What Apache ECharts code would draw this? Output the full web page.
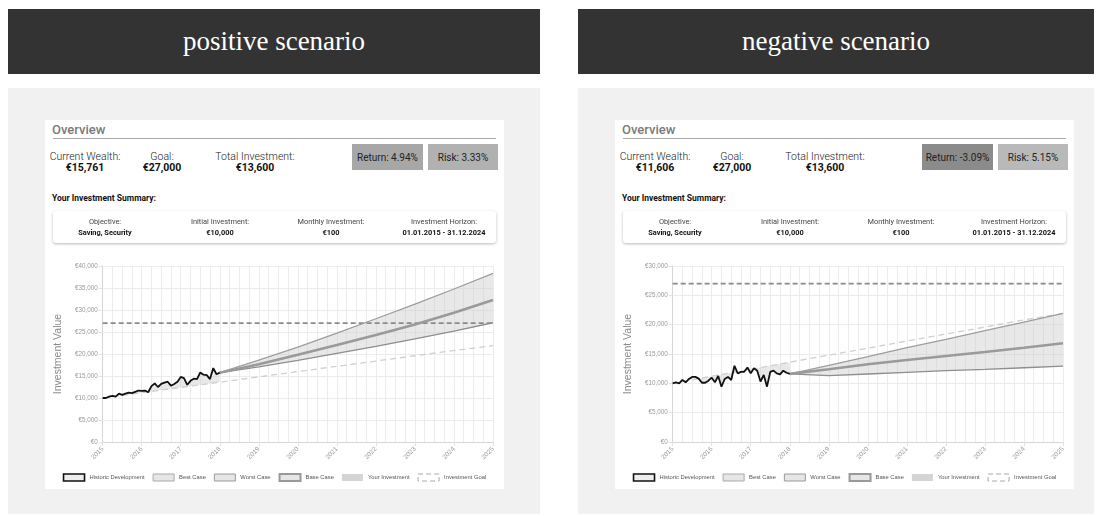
<!DOCTYPE html>
<html>
<head>
<meta charset="utf-8">
<script src="https://cdn.jsdelivr.net/npm/echarts/dist/echarts.min.js"></script>
<style>
  body { margin: 0; width: 1102px; height: 516px; background: #fff; position: relative; overflow: hidden;
         font-family: Roboto, "Liberation Sans", sans-serif; color: #222; }
  .head { position: absolute; top: 9px; height: 65px; background: #333; color: #fff;
          font-family: "Liberation Serif", "DejaVu Serif", serif; font-size: 27px;
          display: flex; align-items: center; justify-content: center; }
  .panel { position: absolute; top: 88px; height: 426px; background: #f1f1f1; }
  .card { position: absolute; top: 120px; width: 459px; height: 369px; background: #fff; }
  .c { position: absolute; width: 160px; margin-left: -80px; white-space: nowrap; text-align: center; }
  .l { position: absolute; white-space: nowrap; }
  .lab { font-size: 10.5px; font-weight: 300; color: #222; line-height: 12px; }
  .val { font-size: 10.5px; font-weight: bold; color: #111; line-height: 12px; }
  .box { position: absolute; top: 24px; height: 26px; font-size: 10px; color: #222;
         display: flex; align-items: center; justify-content: center; }
  .sum { position: absolute; left: 8px; top: 91px; width: 443px; height: 32px; background: #fff;
         border-radius: 3px; box-shadow: 0 1px 3px rgba(0,0,0,0.28); }
  .sl { font-size: 7.4px; color: #444; line-height: 9px; will-change: transform; }
  .sv { font-size: 7.4px; font-weight: bold; color: #111; line-height: 9px; will-change: transform; }
  .chart { position: absolute; left: 0; top: 128px; width: 459px; height: 241px; }
</style>
</head>
<body>
<div class="head" style="left:8px;width:532px">positive scenario</div>
<div class="head" style="left:578px;width:516px">negative scenario</div>
<div class="panel" style="left:8px;width:532px"></div>
<div class="panel" style="left:578px;width:516px"></div>
<div class="card" id="cardPos" style="left:45px"></div>
<div class="card" id="cardNeg" style="left:615px"></div>

<script>
// x positions of the monthly history and of the yearly projections
var histStart = 2015
var years = [2015, 2016, 2017, 2018, 2019, 2020, 2021, 2022, 2023, 2024, 2025]
var projYears = [2018, 2019, 2020, 2021, 2022, 2023, 2024, 2025]

// total paid in (initial + monthly), read at each year
var invested = [10000, 11200, 12400, 13600, 14800, 16000, 17200, 18400, 19600, 20800, 21900]
var goal = 27000

// positive scenario
var histPos = [10000, 10000, 10300, 10500, 10300, 11000, 10700, 11000, 11200, 11100, 11400, 11700,
               11600, 11700, 11300, 12700, 13300, 12500, 13200, 13500, 13700, 12800, 13200, 13700,
               14800, 14500, 13000, 13900, 14400, 14300, 15800, 15300, 15200, 14300, 16800, 15400, 15761]
var bestPos  = [15761, 18600, 21560, 24750, 28010, 31350, 34770, 38340]
var basePos  = [15761, 17690, 19820, 22020, 24300, 26730, 29370, 32260]
var worstPos = [15761, 17080, 18530, 20120, 21710, 23450, 25200, 27100]

// negative scenario
var histNeg = [10000, 10170, 10000, 10570, 10170, 10740, 11100, 11100, 10800, 10100, 10100, 10450,
               10970, 10170, 11250, 9430, 10740, 11100, 10570, 13000, 11700, 11960, 11960, 12700,
               11700, 12560, 12160, 10300, 11420, 9430, 11960, 12160, 11700, 11530, 12160, 11800, 11606]
var bestNeg  = [11606, 13070, 14540, 16070, 17500, 18970, 20450, 21930]
var baseNeg  = [11606, 12390, 13240, 13980, 14660, 15340, 16070, 16820]
var worstNeg = [11606, 11300, 11590, 11880, 12160, 12390, 12660, 12950]

var cardPos = {
  wealth: '€15,761', goal: '€27,000', total: '€13,600',
  ret: 'Return: 4.94%', risk: 'Risk: 3.33%', retBg: '#a7a7a7', riskBg: '#b1b1b1'
}
var cardNeg = {
  wealth: '€11,606', goal: '€27,000', total: '€13,600',
  ret: 'Return: -3.09%', risk: 'Risk: 5.15%', retBg: '#8b8b8b', riskBg: '#b9b9b9'
}

function buildCard (el, c) {
  el.innerHTML =
    '<div class="l" style="left:7px;top:2px;font-size:13px;font-weight:500;color:#7a7a7a">Overview</div>' +
    '<div class="l" style="left:8px;top:18px;width:443px;height:1px;background:#aaa"></div>' +
    '<div class="c lab" style="left:40px;top:31px">Current Wealth:</div>' +
    '<div class="c val" style="left:40px;top:42px">' + c.wealth + '</div>' +
    '<div class="c lab" style="left:117px;top:31px">Goal:</div>' +
    '<div class="c val" style="left:117px;top:42px">' + c.goal + '</div>' +
    '<div class="c lab" style="left:210px;top:31px">Total Investment:</div>' +
    '<div class="c val" style="left:210px;top:42px">' + c.total + '</div>' +
    '<div class="box" style="left:307px;width:71px;background:' + c.retBg + '">' + c.ret + '</div>' +
    '<div class="box" style="left:383px;width:70px;background:' + c.riskBg + '">' + c.risk + '</div>' +
    '<div class="l" style="left:7px;top:73px;font-size:8.5px;font-weight:bold;color:#111">Your Investment Summary:</div>' +
    '<div class="sum">' +
      '<div class="c sl" style="left:52px;top:6px">Objective:</div>' +
      '<div class="c sv" style="left:52px;top:17px">Saving, Security</div>' +
      '<div class="c sl" style="left:167px;top:6px">Initial Investment:</div>' +
      '<div class="c sv" style="left:167px;top:17px">€10,000</div>' +
      '<div class="c sl" style="left:278px;top:6px">Monthly Investment:</div>' +
      '<div class="c sv" style="left:278px;top:17px">€100</div>' +
      '<div class="c sl" style="left:391px;top:6px">Investment Horizon:</div>' +
      '<div class="c sv" style="left:391px;top:17px">01.01.2015 - 31.12.2024</div>' +
    '</div>' +
    '<div class="chart"></div>'
  return el.querySelector('.chart')
}

function pairs (xs, ys) {
  return ys.map(function (v, i) { return [xs[i], v] })
}

// filled polygon between two point lists, positioned through the axes
function bandSeries (upper, lower, fill) {
  return {
    type: 'custom', silent: true, z: 1,
    data: [[2015, 0]],
    renderItem: function (params, api) {
      var pts = upper.map(function (p) { return api.coord(p) })
        .concat(lower.slice().reverse().map(function (p) { return api.coord(p) }))
      return { type: 'polygon', shape: { points: pts }, style: { fill: fill } }
    }
  }
}

function makeOption (hist, best, base, worst, yMax) {
  var histX = hist.map(function (v, i) { return histStart + i / 12 })
  var histPts = pairs(histX, hist)
  var investPts = pairs(years, invested)
  var bestPts = pairs(projYears, best)
  var basePts = pairs(projYears, base)
  var worstPts = pairs(projYears, worst)
  var fmt = function (v) { return '€' + v.toLocaleString('en-US') }

  return {
    animation: false,
    grid: { left: 51, right: 11, top: 18, bottom: 47 },
    xAxis: {
      type: 'value', min: 2015, max: 2025, interval: 1,
      axisLine: { lineStyle: { color: '#d6d6d6' } },
      axisTick: { show: true, length: 4, lineStyle: { color: '#e2e2e2' } },
      axisLabel: { rotate: 45, fontSize: 6.5, color: '#999', margin: 6,
                   fontFamily: 'Liberation Sans', formatter: function (v) { return String(v) } },
      splitLine: { lineStyle: { color: '#ececec' } },
      minorTick: { show: false, splitNumber: 4 },
      minorSplitLine: { show: true, lineStyle: { color: '#ececec' } }
    },
    yAxis: {
      type: 'value', min: 0, max: yMax, interval: 5000,
      name: 'Investment Value', nameLocation: 'middle', nameGap: 24,
      nameTextStyle: { fontSize: 10.5, color: '#8a8a8a', fontFamily: 'Liberation Sans' },
      axisLine: { show: true, lineStyle: { color: '#d6d6d6' } },
      axisTick: { show: true, length: 4, lineStyle: { color: '#e2e2e2' } },
      axisLabel: { fontSize: 6.3, color: '#999', margin: 5, fontFamily: 'Liberation Sans', formatter: fmt },
      splitLine: { lineStyle: { color: '#ececec' } }
    },
    legend: {
      bottom: 7, left: 'center', icon: 'rect', itemWidth: 21, itemHeight: 7, itemGap: 8, padding: 0,
      textStyle: { fontSize: 5.8, color: '#555', fontFamily: 'Liberation Sans' },
      data: [
        { name: 'Historic Development', itemStyle: { color: '#eeeeee', borderColor: '#111', borderWidth: 1.6 } },
        { name: 'Best Case', itemStyle: { color: '#e6e6e6', borderColor: '#a8a8a8', borderWidth: 1 } },
        { name: 'Worst Case', itemStyle: { color: '#e6e6e6', borderColor: '#999', borderWidth: 1 } },
        { name: 'Base Case', itemStyle: { color: '#e6e6e6', borderColor: '#999', borderWidth: 2 } },
        { name: 'Your Investment', itemStyle: { color: '#d4d4d4', borderColor: '#d4d4d4', borderWidth: 0 } },
        { name: 'Investment Goal', itemStyle: { color: '#fff', borderColor: '#aaa', borderWidth: 1, borderType: [5, 3] } }
      ]
    },
    series: [
      bandSeries(bestPts, worstPts, 'rgba(200,200,200,0.42)'),
      bandSeries(histPts, investPts.slice(0, 4), 'rgba(200,200,200,0.42)'),
      { name: 'Your Investment', type: 'line', data: investPts, showSymbol: false, z: 3,
        lineStyle: { color: '#cfcfcf', width: 1.3, type: [6, 4] } },
      { name: 'Investment Goal', type: 'line', data: [[2015, goal], [2025, goal]], showSymbol: false, z: 3,
        lineStyle: { color: '#8a8a8a', width: 1.8, type: [5, 3] } },
      { name: 'Worst Case', type: 'line', data: worstPts, showSymbol: false, z: 4,
        lineStyle: { color: '#8e8e8e', width: 1.3 } },
      { name: 'Best Case', type: 'line', data: bestPts, showSymbol: false, z: 4,
        lineStyle: { color: '#9e9e9e', width: 1.3 } },
      { name: 'Base Case', type: 'line', data: basePts, showSymbol: false, z: 4,
        lineStyle: { color: '#9a9a9a', width: 2.6 } },
      { name: 'Historic Development', type: 'line', data: histPts, showSymbol: false, z: 5,
        lineStyle: { color: '#111', width: 1.8 } }
    ]
  }
}

var elPos = buildCard(document.getElementById('cardPos'), cardPos)
var elNeg = buildCard(document.getElementById('cardNeg'), cardNeg)

echarts.init(elPos).setOption(makeOption(histPos, bestPos, basePos, worstPos, 40000))
echarts.init(elNeg).setOption(makeOption(histNeg, bestNeg, baseNeg, worstNeg, 30000))
</script>
</body>
</html>
